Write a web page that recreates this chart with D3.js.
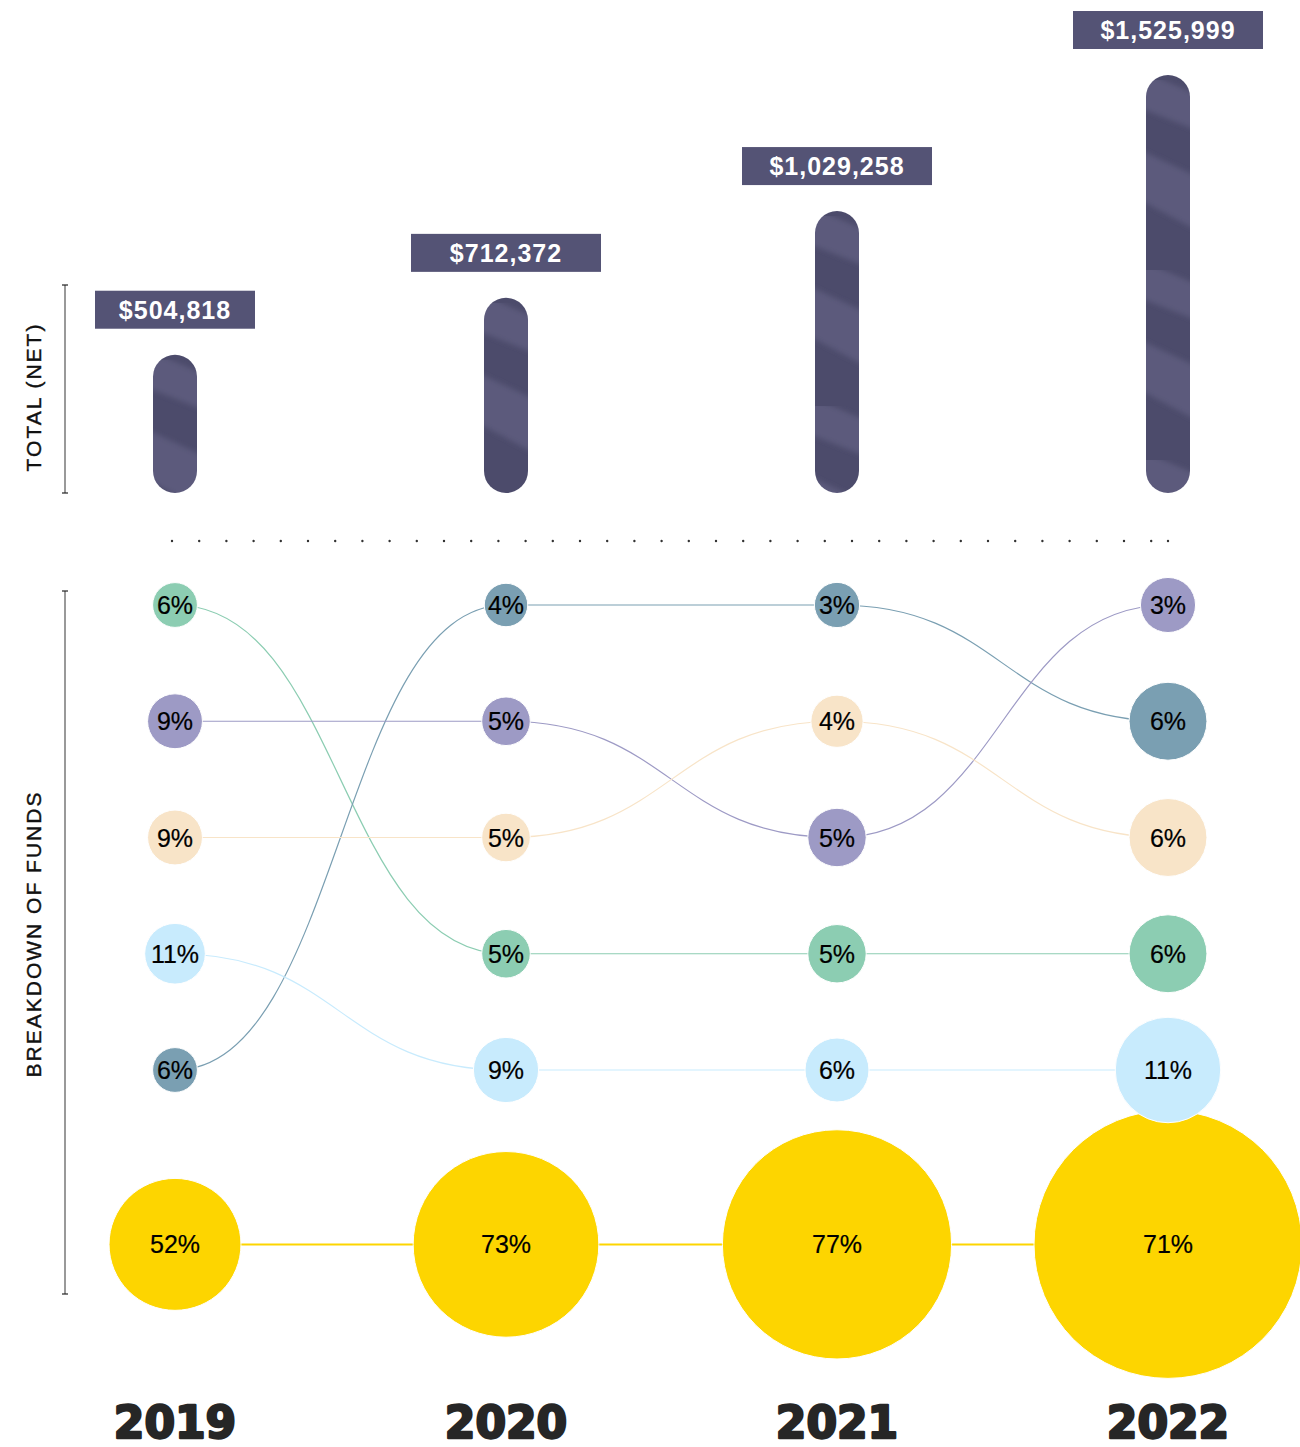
<!DOCTYPE html>
<html>
<head>
<meta charset="utf-8">
<script src="https://cdn.jsdelivr.net/npm/d3@7"></script>
<style>
  body { margin: 0; background: #fff; }
  svg { display: block; }
  .pct { font-family: "Liberation Sans", Arial, sans-serif; font-size: 25px; fill: #000; stroke: #000; stroke-width: 0.2px; }
  .total-label { font-family: "Liberation Sans", Arial, sans-serif; font-size: 25px; font-weight: bold; fill: #fff; letter-spacing: 1px; }
  .axis-title { font-family: "Liberation Sans", Arial, sans-serif; font-size: 21px; fill: #111; stroke: #111; stroke-width: 0.4px; letter-spacing: 2px; }
  .year { font-family: "DejaVu Sans", sans-serif; font-size: 44px; font-weight: bold; fill: #262626; stroke: #262626; stroke-width: 2.4px; stroke-linejoin: round; }
</style>
</head>
<body>
<svg id="chart"></svg>
<script>
  const years = ['2019', '2020', '2021', '2022'];
  const totals = [504818, 712372, 1029258, 1525999];

  // share of funds per year (percent) and its row in the ranking (0 = top)
  const shareGreen = [6, 5, 5, 6];
  const shareSlate = [6, 4, 3, 6];
  const sharePurple = [9, 5, 5, 3];
  const sharePeach = [9, 5, 4, 6];
  const shareLightBlue = [11, 9, 6, 11];
  const shareYellow = [52, 73, 77, 71];

  const rowGreen = [0, 3, 3, 3];
  const rowSlate = [4, 0, 0, 1];
  const rowPurple = [1, 1, 2, 0];
  const rowPeach = [2, 2, 1, 2];
  const rowLightBlue = [3, 4, 4, 4];
  const rowYellow = [5.5, 5.5, 5.5, 5.5];

  const series = [
    {name: 'yellow', color: '#fdd500', width: 2, share: shareYellow, row: rowYellow},
    {name: 'green', color: '#8ccdb2', width: 1.2, share: shareGreen, row: rowGreen},
    {name: 'slate', color: '#7a9fb2', width: 1.2, share: shareSlate, row: rowSlate},
    {name: 'purple', color: '#9d9ac5', width: 1.2, share: sharePurple, row: rowPurple},
    {name: 'peach', color: '#f8e4c8', width: 1.2, share: sharePeach, row: rowPeach},
    {name: 'lightblue', color: '#c8ebfd', width: 1.2, share: shareLightBlue, row: rowLightBlue}
  ];

  const WIDTH = 1300;
  const HEIGHT = 1447;
  const BAR_WIDTH = 44;
  const LABEL_BOX_WIDTHS = [160, 190, 190, 190];

  const svg = d3.select('#chart')
    .attr('width', WIDTH)
    .attr('height', HEIGHT);

  const x = d3.scalePoint().domain(years).range([175, 1168]);
  const yTotal = d3.scaleLinear().domain([0, d3.max(totals)]).range([493, 75]);
  const yRow = d3.scaleLinear().domain([0, 4]).range([605, 1070]);

  const amounts = series.flatMap(s => s.share.map((p, i) => p / 100 * totals[i]));
  const r = d3.scaleSqrt().domain([0, d3.max(amounts)]).range([0, 134]);

  // ---- axis guides on the left
  const guides = [
    {label: 'TOTAL (NET)', y0: 285, y1: 493, mid: 397},
    {label: 'BREAKDOWN OF FUNDS', y0: 591, y1: 1294, mid: 934}
  ];
  guides.forEach(g => {
    const ga = svg.append('g');
    ga.append('line')
      .attr('x1', 65).attr('x2', 65)
      .attr('y1', g.y0).attr('y2', g.y1)
      .attr('stroke', '#555').attr('stroke-width', 1.2);
    [g.y0, g.y1].forEach(yy => {
      ga.append('line')
        .attr('x1', 62).attr('x2', 68)
        .attr('y1', yy).attr('y2', yy)
        .attr('stroke', '#222').attr('stroke-width', 1.2);
    });
    ga.append('text')
      .attr('class', 'axis-title')
      .attr('transform', `translate(41, ${g.mid}) rotate(-90)`)
      .attr('text-anchor', 'middle')
      .text(g.label);
  });

  // ---- top section: totals as rounded bars
  const defs = svg.append('defs');
  defs.append('filter').attr('id', 'soft')
    .append('feGaussianBlur').attr('stdDeviation', 2.5);

  const totalData = years.map((yr, i) => ({year: yr, value: totals[i]}));

  totalData.forEach((d, i) => {
    const px = x(d.year) - BAR_WIDTH / 2;
    const pat = defs.append('pattern')
      .attr('id', 'tex' + i)
      .attr('patternUnits', 'userSpaceOnUse')
      .attr('x', px).attr('y', yTotal(d.value) + 5)
      .attr('width', BAR_WIDTH).attr('height', 190);
    pat.append('rect').attr('width', BAR_WIDTH).attr('height', 190).attr('fill', '#4c4b6b');
    pat.append('path')
      .attr('d', 'M-6,-10 L50,14 L50,50 L-6,28 Z M-6,70 L50,96 L50,150 L-6,120 Z')
      .attr('fill', '#5b5a7b')
      .attr('filter', 'url(#soft)');
  });

  svg.selectAll('.bar')
    .data(totalData)
    .enter()
    .append('rect')
    .classed('bar', true)
    .attr('x', d => x(d.year) - BAR_WIDTH / 2)
    .attr('y', d => yTotal(d.value))
    .attr('width', BAR_WIDTH)
    .attr('height', d => yTotal(0) - yTotal(d.value))
    .attr('rx', BAR_WIDTH / 2)
    .attr('fill', (d, i) => `url(#tex${i})`);

  const labels = svg.selectAll('.total')
    .data(totalData)
    .enter()
    .append('g')
    .classed('total', true);

  labels.append('rect')
    .attr('x', (d, i) => x(d.year) - LABEL_BOX_WIDTHS[i] / 2)
    .attr('y', d => yTotal(d.value) - 64)
    .attr('width', (d, i) => LABEL_BOX_WIDTHS[i])
    .attr('height', 38)
    .attr('fill', '#545375');

  labels.append('text')
    .attr('class', 'total-label')
    .attr('x', d => x(d.year))
    .attr('y', d => yTotal(d.value) - 36)
    .attr('text-anchor', 'middle')
    .text(d => '$' + d3.format(',')(d.value));

  // ---- dotted separator
  const sep = svg.append('g');
  sep.append('line')
    .attr('x1', 172).attr('x2', 1168)
    .attr('y1', 541).attr('y2', 541)
    .attr('stroke', '#333')
    .attr('stroke-width', 2.4)
    .attr('stroke-linecap', 'round')
    .attr('stroke-dasharray', '0 27.2');
  sep.append('circle')
    .attr('cx', 1168).attr('cy', 541).attr('r', 1.2)
    .attr('fill', '#333');

  // ---- bottom section: breakdown bump chart
  const link = d3.linkHorizontal().x(d => d[0]).y(d => d[1]);

  const linkData = series.flatMap(s => d3.range(years.length - 1).map(i => ({
    color: s.color,
    width: s.width,
    source: [x(years[i]), yRow(s.row[i])],
    target: [x(years[i + 1]), yRow(s.row[i + 1])]
  })));

  svg.append('g')
    .selectAll('path')
    .data(linkData)
    .enter()
    .append('path')
    .attr('d', link)
    .attr('fill', 'none')
    .attr('stroke', d => d.color)
    .attr('stroke-width', d => d.width);

  const nodes = series.flatMap(s => years.map((yr, i) => ({
    year: yr,
    color: s.color,
    pct: s.share[i],
    row: s.row[i],
    amount: s.share[i] / 100 * totals[i]
  })));

  const node = svg.append('g')
    .selectAll('g')
    .data(nodes)
    .enter()
    .append('g')
    .attr('transform', d => `translate(${x(d.year)}, ${yRow(d.row)})`);

  node.append('circle')
    .attr('r', d => r(d.amount))
    .attr('fill', d => d.color)
    .attr('stroke', '#fff')
    .attr('stroke-width', 1);

  node.append('text')
    .attr('class', 'pct')
    .attr('text-anchor', 'middle')
    .attr('dy', '0.36em')
    .text(d => d.pct + '%');

  // ---- year labels
  svg.selectAll('.year')
    .data(years)
    .enter()
    .append('text')
    .attr('class', 'year')
    .attr('x', d => x(d))
    .attr('y', 1438)
    .attr('text-anchor', 'middle')
    .text(d => d);
</script>
</body>
</html>
